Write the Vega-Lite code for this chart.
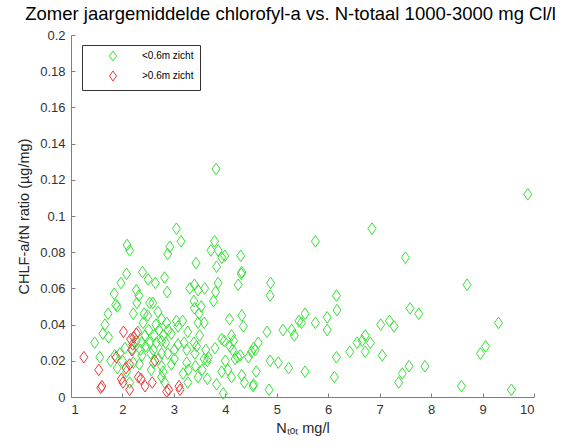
{
"$schema": "https://vega.github.io/schema/vega-lite/v6.json",
"width": 463, "height": 362,
"autosize": "none",
"padding": {"left": 71, "top": 35, "right": 32, "bottom": 51},
"background": "white",
"title": {"text": "Zomer jaargemiddelde chlorofyl-a vs. N-totaal 1000-3000 mg Cl/l", "font": "Liberation Sans", "fontSize": 18.5, "fontWeight": "normal", "color": "#000000", "offset": 6, "dx": -12},
"config": {
 "view": {"stroke": null},
 "axis": {"grid": false, "domainColor": "#808080", "tickColor": "#808080", "labelColor": "#333333", "titleColor": "#262626", "labelFont": "Liberation Sans", "titleFont": "Liberation Sans", "labelFontSize": 13, "titleFontSize": 14.5, "titleFontWeight": "normal", "tickSize": -4, "labelPadding": 10}
},
"data": {"values": [
{"x":3.82,"y":0.126,"z":"<0.6m zicht"},{"x":3.05,"y":0.093,"z":"<0.6m zicht"},{"x":3.14,"y":0.086,"z":"<0.6m zicht"},{"x":2.09,"y":0.084,"z":"<0.6m zicht"},{"x":2.14,"y":0.081,"z":"<0.6m zicht"},{"x":2.92,"y":0.083,"z":"<0.6m zicht"},{"x":2.88,"y":0.079,"z":"<0.6m zicht"},{"x":3.79,"y":0.086,"z":"<0.6m zicht"},{"x":3.72,"y":0.081,"z":"<0.6m zicht"},{"x":3.86,"y":0.081,"z":"<0.6m zicht"},{"x":3.99,"y":0.078,"z":"<0.6m zicht"},{"x":3.93,"y":0.077,"z":"<0.6m zicht"},{"x":4.30,"y":0.078,"z":"<0.6m zicht"},{"x":3.43,"y":0.074,"z":"<0.6m zicht"},{"x":3.83,"y":0.072,"z":"<0.6m zicht"},{"x":4.32,"y":0.069,"z":"<0.6m zicht"},{"x":4.31,"y":0.068,"z":"<0.6m zicht"},{"x":2.39,"y":0.069,"z":"<0.6m zicht"},{"x":2.08,"y":0.068,"z":"<0.6m zicht"},{"x":2.50,"y":0.065,"z":"<0.6m zicht"},{"x":2.64,"y":0.063,"z":"<0.6m zicht"},{"x":2.82,"y":0.066,"z":"<0.6m zicht"},{"x":1.97,"y":0.063,"z":"<0.6m zicht"},{"x":1.84,"y":0.057,"z":"<0.6m zicht"},{"x":2.27,"y":0.059,"z":"<0.6m zicht"},{"x":2.32,"y":0.056,"z":"<0.6m zicht"},{"x":2.28,"y":0.052,"z":"<0.6m zicht"},{"x":2.87,"y":0.058,"z":"<0.6m zicht"},{"x":3.86,"y":0.063,"z":"<0.6m zicht"},{"x":3.31,"y":0.060,"z":"<0.6m zicht"},{"x":3.40,"y":0.062,"z":"<0.6m zicht"},{"x":3.47,"y":0.059,"z":"<0.6m zicht"},{"x":3.60,"y":0.060,"z":"<0.6m zicht"},{"x":3.81,"y":0.058,"z":"<0.6m zicht"},{"x":4.25,"y":0.062,"z":"<0.6m zicht"},{"x":4.88,"y":0.063,"z":"<0.6m zicht"},{"x":4.87,"y":0.056,"z":"<0.6m zicht"},{"x":1.87,"y":0.051,"z":"<0.6m zicht"},{"x":1.90,"y":0.050,"z":"<0.6m zicht"},{"x":1.72,"y":0.046,"z":"<0.6m zicht"},{"x":1.66,"y":0.040,"z":"<0.6m zicht"},{"x":2.21,"y":0.046,"z":"<0.6m zicht"},{"x":2.42,"y":0.046,"z":"<0.6m zicht"},{"x":2.53,"y":0.052,"z":"<0.6m zicht"},{"x":2.59,"y":0.052,"z":"<0.6m zicht"},{"x":3.39,"y":0.053,"z":"<0.6m zicht"},{"x":3.40,"y":0.049,"z":"<0.6m zicht"},{"x":3.53,"y":0.050,"z":"<0.6m zicht"},{"x":3.49,"y":0.046,"z":"<0.6m zicht"},{"x":3.77,"y":0.053,"z":"<0.6m zicht"},{"x":3.47,"y":0.041,"z":"<0.6m zicht"},{"x":3.59,"y":0.041,"z":"<0.6m zicht"},{"x":4.08,"y":0.043,"z":"<0.6m zicht"},{"x":4.32,"y":0.045,"z":"<0.6m zicht"},{"x":4.35,"y":0.039,"z":"<0.6m zicht"},{"x":5.48,"y":0.041,"z":"<0.6m zicht"},{"x":5.12,"y":0.037,"z":"<0.6m zicht"},{"x":5.29,"y":0.037,"z":"<0.6m zicht"},{"x":5.34,"y":0.034,"z":"<0.6m zicht"},{"x":4.81,"y":0.036,"z":"<0.6m zicht"},{"x":3.05,"y":0.042,"z":"<0.6m zicht"},{"x":3.17,"y":0.042,"z":"<0.6m zicht"},{"x":1.62,"y":0.035,"z":"<0.6m zicht"},{"x":1.73,"y":0.033,"z":"<0.6m zicht"},{"x":1.46,"y":0.030,"z":"<0.6m zicht"},{"x":1.56,"y":0.022,"z":"<0.6m zicht"},{"x":1.77,"y":0.020,"z":"<0.6m zicht"},{"x":1.90,"y":0.016,"z":"<0.6m zicht"},{"x":2.51,"y":0.037,"z":"<0.6m zicht"},{"x":2.44,"y":0.034,"z":"<0.6m zicht"},{"x":2.62,"y":0.034,"z":"<0.6m zicht"},{"x":2.71,"y":0.037,"z":"<0.6m zicht"},{"x":2.79,"y":0.034,"z":"<0.6m zicht"},{"x":2.89,"y":0.037,"z":"<0.6m zicht"},{"x":2.95,"y":0.035,"z":"<0.6m zicht"},{"x":2.37,"y":0.030,"z":"<0.6m zicht"},{"x":2.53,"y":0.030,"z":"<0.6m zicht"},{"x":2.66,"y":0.030,"z":"<0.6m zicht"},{"x":2.76,"y":0.031,"z":"<0.6m zicht"},{"x":2.84,"y":0.030,"z":"<0.6m zicht"},{"x":2.60,"y":0.026,"z":"<0.6m zicht"},{"x":2.76,"y":0.024,"z":"<0.6m zicht"},{"x":2.88,"y":0.024,"z":"<0.6m zicht"},{"x":3.01,"y":0.026,"z":"<0.6m zicht"},{"x":3.08,"y":0.029,"z":"<0.6m zicht"},{"x":3.27,"y":0.036,"z":"<0.6m zicht"},{"x":3.25,"y":0.026,"z":"<0.6m zicht"},{"x":3.39,"y":0.030,"z":"<0.6m zicht"},{"x":3.44,"y":0.028,"z":"<0.6m zicht"},{"x":3.41,"y":0.024,"z":"<0.6m zicht"},{"x":3.62,"y":0.026,"z":"<0.6m zicht"},{"x":3.67,"y":0.022,"z":"<0.6m zicht"},{"x":3.59,"y":0.021,"z":"<0.6m zicht"},{"x":3.65,"y":0.020,"z":"<0.6m zicht"},{"x":3.80,"y":0.027,"z":"<0.6m zicht"},{"x":3.93,"y":0.032,"z":"<0.6m zicht"},{"x":3.98,"y":0.031,"z":"<0.6m zicht"},{"x":4.12,"y":0.034,"z":"<0.6m zicht"},{"x":4.16,"y":0.031,"z":"<0.6m zicht"},{"x":4.09,"y":0.028,"z":"<0.6m zicht"},{"x":4.14,"y":0.026,"z":"<0.6m zicht"},{"x":4.29,"y":0.023,"z":"<0.6m zicht"},{"x":4.51,"y":0.025,"z":"<0.6m zicht"},{"x":4.55,"y":0.027,"z":"<0.6m zicht"},{"x":4.58,"y":0.026,"z":"<0.6m zicht"},{"x":4.64,"y":0.030,"z":"<0.6m zicht"},{"x":4.45,"y":0.022,"z":"<0.6m zicht"},{"x":4.87,"y":0.020,"z":"<0.6m zicht"},{"x":5.03,"y":0.019,"z":"<0.6m zicht"},{"x":5.23,"y":0.016,"z":"<0.6m zicht"},{"x":2.60,"y":0.019,"z":"<0.6m zicht"},{"x":2.56,"y":0.015,"z":"<0.6m zicht"},{"x":2.76,"y":0.017,"z":"<0.6m zicht"},{"x":2.79,"y":0.014,"z":"<0.6m zicht"},{"x":3.01,"y":0.021,"z":"<0.6m zicht"},{"x":3.25,"y":0.019,"z":"<0.6m zicht"},{"x":3.28,"y":0.015,"z":"<0.6m zicht"},{"x":3.42,"y":0.017,"z":"<0.6m zicht"},{"x":3.18,"y":0.013,"z":"<0.6m zicht"},{"x":3.27,"y":0.008,"z":"<0.6m zicht"},{"x":3.47,"y":0.011,"z":"<0.6m zicht"},{"x":3.65,"y":0.010,"z":"<0.6m zicht"},{"x":3.83,"y":0.007,"z":"<0.6m zicht"},{"x":3.96,"y":0.002,"z":"<0.6m zicht"},{"x":3.93,"y":0.014,"z":"<0.6m zicht"},{"x":4.05,"y":0.015,"z":"<0.6m zicht"},{"x":4.12,"y":0.011,"z":"<0.6m zicht"},{"x":4.32,"y":0.012,"z":"<0.6m zicht"},{"x":4.37,"y":0.008,"z":"<0.6m zicht"},{"x":4.55,"y":0.007,"z":"<0.6m zicht"},{"x":4.54,"y":0.006,"z":"<0.6m zicht"},{"x":4.85,"y":0.004,"z":"<0.6m zicht"},{"x":4.19,"y":0.021,"z":"<0.6m zicht"},{"x":4.24,"y":0.022,"z":"<0.6m zicht"},{"x":2.33,"y":0.018,"z":"<0.6m zicht"},{"x":2.38,"y":0.023,"z":"<0.6m zicht"},{"x":2.21,"y":0.019,"z":"<0.6m zicht"},{"x":2.08,"y":0.014,"z":"<0.6m zicht"},{"x":1.85,"y":0.023,"z":"<0.6m zicht"},{"x":1.95,"y":0.024,"z":"<0.6m zicht"},{"x":2.05,"y":0.027,"z":"<0.6m zicht"},{"x":2.27,"y":0.031,"z":"<0.6m zicht"},{"x":2.49,"y":0.045,"z":"<0.6m zicht"},{"x":2.40,"y":0.041,"z":"<0.6m zicht"},{"x":2.69,"y":0.047,"z":"<0.6m zicht"},{"x":2.76,"y":0.043,"z":"<0.6m zicht"},{"x":2.86,"y":0.041,"z":"<0.6m zicht"},{"x":3.08,"y":0.039,"z":"<0.6m zicht"},{"x":2.76,"y":0.011,"z":"<0.6m zicht"},{"x":2.82,"y":0.008,"z":"<0.6m zicht"},{"x":2.14,"y":0.008,"z":"<0.6m zicht"},
{"x":2.30,"y":0.036,"z":"<0.6m zicht"},{"x":2.45,"y":0.028,"z":"<0.6m zicht"},{"x":2.55,"y":0.024,"z":"<0.6m zicht"},{"x":2.70,"y":0.021,"z":"<0.6m zicht"},{"x":2.20,"y":0.026,"z":"<0.6m zicht"},{"x":2.35,"y":0.026,"z":"<0.6m zicht"},{"x":2.00,"y":0.020,"z":"<0.6m zicht"},{"x":2.65,"y":0.040,"z":"<0.6m zicht"},{"x":3.20,"y":0.030,"z":"<0.6m zicht"},{"x":3.50,"y":0.034,"z":"<0.6m zicht"},{"x":3.55,"y":0.015,"z":"<0.6m zicht"},{"x":4.00,"y":0.020,"z":"<0.6m zicht"},{"x":4.60,"y":0.014,"z":"<0.6m zicht"},{"x":2.95,"y":0.018,"z":"<0.6m zicht"},
{"x":9.88,"y":0.112,"z":"<0.6m zicht"},{"x":6.85,"y":0.093,"z":"<0.6m zicht"},{"x":5.75,"y":0.086,"z":"<0.6m zicht"},{"x":7.50,"y":0.077,"z":"<0.6m zicht"},{"x":8.70,"y":0.062,"z":"<0.6m zicht"},{"x":6.16,"y":0.056,"z":"<0.6m zicht"},{"x":6.17,"y":0.048,"z":"<0.6m zicht"},{"x":5.55,"y":0.046,"z":"<0.6m zicht"},{"x":5.75,"y":0.041,"z":"<0.6m zicht"},{"x":5.98,"y":0.044,"z":"<0.6m zicht"},{"x":5.98,"y":0.037,"z":"<0.6m zicht"},{"x":5.43,"y":0.042,"z":"<0.6m zicht"},{"x":7.59,"y":0.049,"z":"<0.6m zicht"},{"x":7.76,"y":0.046,"z":"<0.6m zicht"},{"x":7.02,"y":0.040,"z":"<0.6m zicht"},{"x":7.19,"y":0.042,"z":"<0.6m zicht"},{"x":7.28,"y":0.039,"z":"<0.6m zicht"},{"x":9.31,"y":0.041,"z":"<0.6m zicht"},{"x":6.72,"y":0.034,"z":"<0.6m zicht"},{"x":6.66,"y":0.031,"z":"<0.6m zicht"},{"x":6.56,"y":0.030,"z":"<0.6m zicht"},{"x":6.82,"y":0.030,"z":"<0.6m zicht"},{"x":6.42,"y":0.025,"z":"<0.6m zicht"},{"x":6.72,"y":0.025,"z":"<0.6m zicht"},{"x":6.16,"y":0.022,"z":"<0.6m zicht"},{"x":7.05,"y":0.023,"z":"<0.6m zicht"},{"x":5.55,"y":0.014,"z":"<0.6m zicht"},{"x":6.12,"y":0.011,"z":"<0.6m zicht"},{"x":7.57,"y":0.017,"z":"<0.6m zicht"},{"x":7.44,"y":0.013,"z":"<0.6m zicht"},{"x":7.37,"y":0.008,"z":"<0.6m zicht"},{"x":7.88,"y":0.017,"z":"<0.6m zicht"},{"x":9.06,"y":0.028,"z":"<0.6m zicht"},{"x":8.96,"y":0.024,"z":"<0.6m zicht"},{"x":8.59,"y":0.006,"z":"<0.6m zicht"},{"x":9.56,"y":0.004,"z":"<0.6m zicht"},
{"x":1.25,"y":0.022,"z":">0.6m zicht"},{"x":1.54,"y":0.015,"z":">0.6m zicht"},{"x":1.60,"y":0.006,"z":">0.6m zicht"},{"x":1.58,"y":0.005,"z":">0.6m zicht"},{"x":1.88,"y":0.022,"z":">0.6m zicht"},{"x":2.02,"y":0.036,"z":">0.6m zicht"},{"x":2.27,"y":0.035,"z":">0.6m zicht"},{"x":2.22,"y":0.033,"z":">0.6m zicht"},{"x":2.16,"y":0.032,"z":">0.6m zicht"},{"x":2.20,"y":0.029,"z":">0.6m zicht"},{"x":2.18,"y":0.026,"z":">0.6m zicht"},{"x":2.07,"y":0.016,"z":">0.6m zicht"},{"x":2.14,"y":0.018,"z":">0.6m zicht"},{"x":1.98,"y":0.010,"z":">0.6m zicht"},{"x":2.01,"y":0.008,"z":">0.6m zicht"},{"x":2.14,"y":0.004,"z":">0.6m zicht"},{"x":2.31,"y":0.011,"z":">0.6m zicht"},{"x":2.36,"y":0.010,"z":">0.6m zicht"},{"x":2.44,"y":0.006,"z":">0.6m zicht"},{"x":2.58,"y":0.008,"z":">0.6m zicht"},{"x":2.63,"y":0.020,"z":">0.6m zicht"},{"x":2.86,"y":0.003,"z":">0.6m zicht"},{"x":2.90,"y":0.004,"z":">0.6m zicht"},{"x":3.12,"y":0.004,"z":">0.6m zicht"},{"x":3.10,"y":0.006,"z":">0.6m zicht"}
]},
"mark": {"type": "point", "shape": "M0,-1.3L0.9,0L0,1.3L-0.9,0Z", "filled": false, "size": 80, "strokeWidth": 1, "opacity": 1},
"encoding": {
 "x": {"field": "x", "type": "quantitative", "scale": {"domain": [1, 10], "nice": false, "zero": false}, "axis": {"values": [1,2,3,4,5,6,7,8,9,10], "title": "Nₜₒₜ mg/l", "titlePadding": 5}},
 "y": {"field": "y", "type": "quantitative", "scale": {"domain": [0, 0.2], "nice": false}, "axis": {"values": [0,0.02,0.04,0.06,0.08,0.1,0.12,0.14,0.16,0.18,0.2], "format": "~g", "title": "CHLF-a/tN ratio (µg/mg)", "titlePadding": 8}},
 "color": {"field": "z", "type": "nominal", "scale": {"domain": ["<0.6m zicht", ">0.6m zicht"], "range": ["#36e036", "#e83a3a"]},
  "legend": {"title": null, "orient": "none", "legendX": 11, "legendY": 10, "strokeColor": "#333333", "fillColor": "white", "padding": 6, "symbolType": "M0,-1.3L0.9,0L0,1.3L-0.9,0Z", "symbolSize": 60, "symbolStrokeWidth": 1, "symbolOffset": 20, "labelOffset": 24, "labelFont": "Liberation Sans", "labelFontSize": 10, "labelColor": "#000000", "rowPadding": 4}}
}
}
